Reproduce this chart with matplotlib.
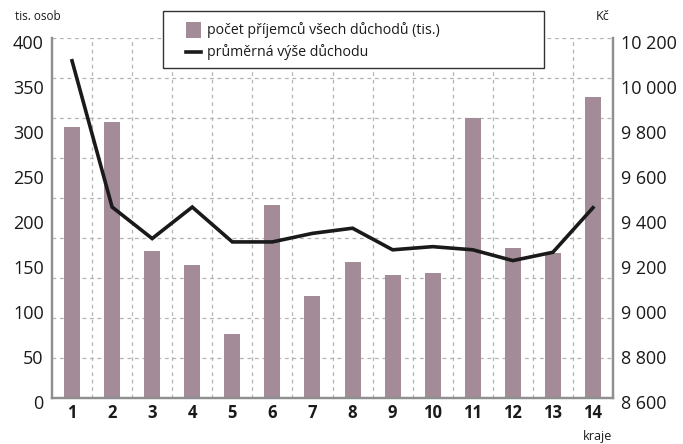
import matplotlib
matplotlib.use("Agg")
import matplotlib.pyplot as plt
import numpy as np
from matplotlib.transforms import ScaledTranslation
from matplotlib.lines import Line2D
from matplotlib.patches import Rectangle

# ---- data ----
regions = ["1", "2", "3", "4", "5", "6", "7", "8", "9", "10", "11", "12", "13", "14"]
recipients = [301, 307, 164, 148, 71, 215, 114, 152, 137, 139, 311, 167, 161, 335]
avg_pension = [10100, 9450, 9310, 9450, 9295, 9295, 9333, 9356, 9260, 9274, 9260, 9212, 9249, 9447]
left_ticks = [0, 50, 100, 150, 200, 250, 300, 350, 400]
right_ticks = [8600, 8800, 9000, 9200, 9400, 9600, 9800, 10000, 10200]

bar_label = "počet příjemců všech důchodů (tis.)"
line_label = "průměrná výše důchodu"

FONT = ["Open Sans", "DejaVu Sans"]
plt.rcParams["font.family"] = FONT

W, H = 683, 444
fig = plt.figure(figsize=(W / 100, H / 100), dpi=100)
x0, x1, yb, yt = 52, 613, 398.3, 38.3
ax = fig.add_axes([x0 / W, 1 - yb / H, (x1 - x0) / W, (yb - yt) / H])
ax2 = ax.twinx()

x = np.arange(1, len(regions) + 1)
bar_color = "#a38b98"
grid_color = "#b4b4b4"
spine_color = "#8f8f8f"
text_color = "#1a1a1a"

ax.set_xlim(0.5, len(regions) + 0.5)
ax.set_ylim(0, 400)
ax2.set_ylim(8600, 10200)

# grid (dashed)
for k in range(1, 10):
    ax.axhline(400 * k / 9, color=grid_color, lw=0.9, ls=(0, (3, 3)), zorder=0)
for xv in np.arange(1.5, len(regions), 1.0):
    ax.axvline(xv, color=grid_color, lw=0.9, ls=(0, (3, 3)), zorder=0)

ax.bar(x, recipients, width=0.4, color=bar_color, zorder=2)
ax2.plot(x, avg_pension, color=text_color, lw=2.6, solid_joinstyle="miter", zorder=3)

# spines
for a in (ax, ax2):
    a.spines["top"].set_visible(False)
    for s in ("left", "right", "bottom"):
        a.spines[s].set_color(spine_color)
        a.spines[s].set_linewidth(1.6)

ax.set_yticks(left_ticks)
ax.set_yticklabels([str(v) for v in left_ticks])
ax2.set_yticks(right_ticks)
ax2.set_yticklabels([f"{v:,}".replace(",", " ") for v in right_ticks])
ax.set_xticks(x)
ax.set_xticklabels(regions, fontweight="bold")

ax.tick_params(axis="y", length=0, pad=6, labelsize=13, labelcolor=text_color)
ax2.tick_params(axis="y", length=0, pad=6, labelsize=13, labelcolor=text_color)
ax.tick_params(axis="x", length=0, pad=4, labelsize=12, labelcolor=text_color)

off = ScaledTranslation(0, -3 / 72, fig.dpi_scale_trans)
for lab in ax.get_yticklabels() + ax2.get_yticklabels():
    lab.set_transform(lab.get_transform() + off)

# texts
fig.text(15 / W, 1 - 17 / H, "tis. osob", fontsize=8.5, va="center", ha="left", color=text_color)
fig.text(603 / W, 1 - 17 / H, "Kč", fontsize=9, va="center", ha="center", color=text_color)
fig.text(598 / W, 1 - 436 / H, "kraje", fontsize=9, va="center", ha="center", color=text_color)

# legend (drawn in figure pixel coordinates)
def fx(px):
    return px / W

def fy(py):
    return 1 - py / H

fig.patches.append(Rectangle((fx(163), fy(68)), fx(544) - fx(163), fy(11) - fy(68),
                             transform=fig.transFigure, facecolor="white",
                             edgecolor="#333333", lw=1.0, zorder=10))
fig.patches.append(Rectangle((fx(186), fy(38)), fx(201) - fx(186), fy(22) - fy(38),
                             transform=fig.transFigure, facecolor=bar_color,
                             edgecolor="none", zorder=11))
fig.lines.append(Line2D([fx(186), fx(201)], [fy(52), fy(52)], transform=fig.transFigure,
                        color=text_color, lw=2.6, zorder=11))
fig.text(fx(207), fy(30), bar_label, fontsize=10.2, va="center", ha="left",
         color=text_color, zorder=12)
fig.text(fx(207), fy(52), line_label, fontsize=10.2, va="center", ha="left",
         color=text_color, zorder=12)

fig.savefig("out.png", dpi=100)
